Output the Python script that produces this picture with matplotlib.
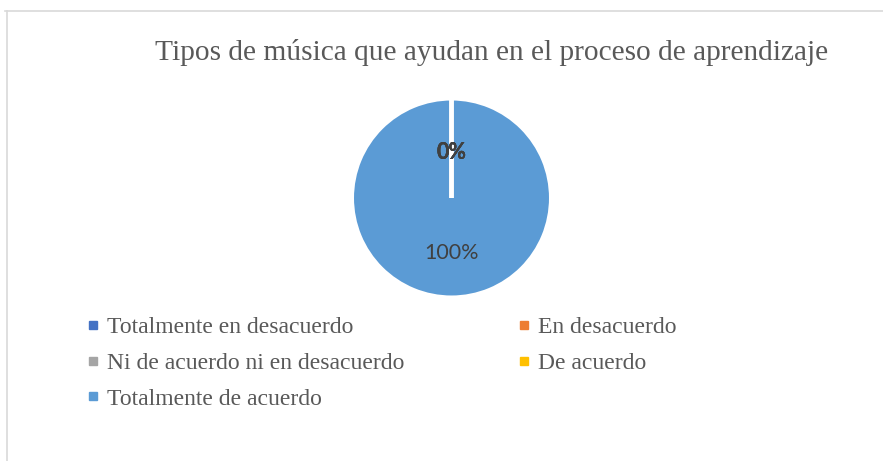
import matplotlib as mpl; mpl.use("Agg")
import matplotlib.pyplot as plt
from matplotlib.lines import Line2D

# Data
# ------------------------------------------------------------------------------
categories = ["Totalmente en desacuerdo", "En desacuerdo",
              "Ni de acuerdo ni en desacuerdo", "De acuerdo",
              "Totalmente de acuerdo"]
values = [0, 0, 0, 0, 100]
colors = ["#4472C4", "#ED7D31", "#A5A5A5", "#FFC000", "#5B9BD5"]
title = "Tipos de música que ayudan en el proceso de aprendizaje"

W, H = 883, 461
fig = plt.figure(figsize=(W / 100, H / 100), dpi=100)

# chart border (top and left only visible)
grey = "#D9D9D9"
fig.add_artist(Line2D([5 / W, 1], [1 - 11.5 / H] * 2, color=grey, lw=1.2,
                      transform=fig.transFigure))
fig.add_artist(Line2D([7.5 / W] * 2, [0, 1 - 11.5 / H], color=grey, lw=1.2,
                      transform=fig.transFigure))

# pie: centre (451, 198) px, radius ~99 px (white edge eats ~1.5 px)
cx, cy, r = 451.5, 198, 99.5
ax = fig.add_axes([(cx - r) / W, 1 - (cy + r) / H, 2 * r / W, 2 * r / H])
wedges, texts, autotexts = ax.pie(
    values, colors=colors, startangle=90, counterclock=False,
    autopct="%1.0f%%", pctdistance=0.5,
    wedgeprops=dict(edgecolor="white", linewidth=2.9),
    textprops=dict(color="#404040", family="Lato", fontsize=15.5))
ax.set_xlim(-1, 1)
ax.set_ylim(-1, 1)
for w, v in zip(wedges, values):
    w.set_clip_on(False)
    if v == 0:
        w.set_zorder(3)   # zero slices show as the white line on top
for v, t in zip(values, autotexts):
    x, y = t.get_position()
    t.set_zorder(5)
    if v == 0:
        t.set_fontweight("bold")
        t.set_position((x * 0.91, y * 0.91))
    else:
        t.set_position((x * 1.11, y * 1.11))

fig.text(492 / W, 1 - 53 / H, title, ha="center", va="center",
         family="Liberation Serif", fontsize=21.2, color="#595959")

order = [0, 2, 4, 1, 3]
handles = [Line2D([], [], ls="", marker="s", markersize=5.2,
                  color=colors[i]) for i in order]
leg = fig.legend(handles, [categories[i] for i in order],
                 ncol=2, loc="upper left", bbox_to_anchor=(77 / W, 1 - 305 / H),
                 frameon=False, borderpad=0, handlelength=0.32,
                 handletextpad=0.45, columnspacing=4.9, labelspacing=0.6,
                 prop=dict(family="Liberation Serif", size=17))
for t in leg.get_texts():
    t.set_color("#595959")

fig.savefig("out.png", dpi=100)
